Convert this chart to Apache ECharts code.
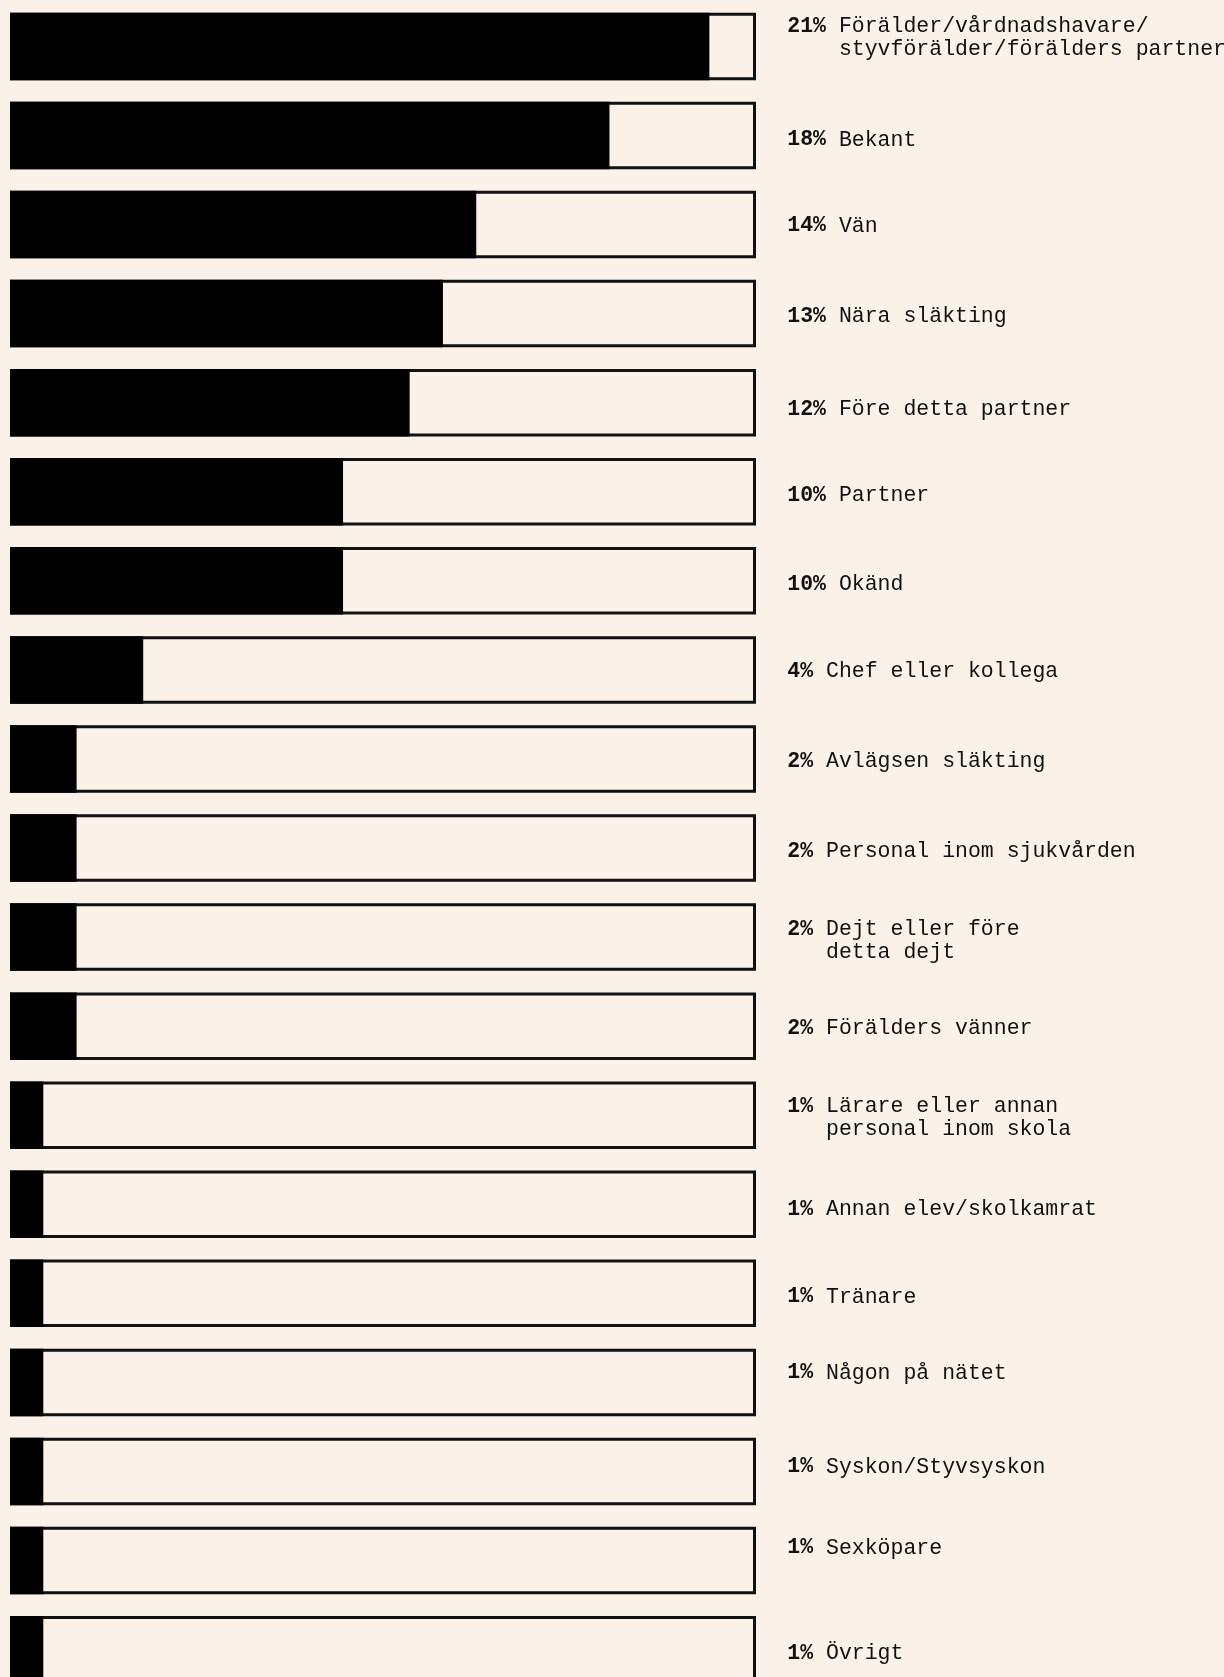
<!DOCTYPE html>
<html>
<head>
<meta charset="utf-8">
<script src="https://cdn.jsdelivr.net/npm/echarts@6/dist/echarts.min.js"></script>
<style>
  html, body { margin: 0; padding: 0; background: #FAF2E8; overflow: hidden; }
  #chart { width: 1224px; height: 1677px; }
</style>
</head>
<body>
<div id="chart"></div>
<script>
// ---- data ----
const categories = [
  'Förälder/vårdnadshavare/\nstyvförälder/förälders partner',
  'Bekant',
  'Vän',
  'Nära släkting',
  'Före detta partner',
  'Partner',
  'Okänd',
  'Chef eller kollega',
  'Avlägsen släkting',
  'Personal inom sjukvården',
  'Dejt eller före\ndetta dejt',
  'Förälders vänner',
  'Lärare eller annan\npersonal inom skola',
  'Annan elev/skolkamrat',
  'Tränare',
  'Någon på nätet',
  'Syskon/Styvsyskon',
  'Sexköpare',
  'Övrigt'
];
const values = [21, 18, 14, 13, 12, 10, 10, 4, 2, 2, 2, 2, 1, 1, 1, 1, 1, 1, 1];
const axisMax = 22.4;

// ---- layout / style (not data) ----
const labelNudge = [-10, 3, 0, 1, 5, 2, 2, 0, 1, 2, 2, 1, 1, 4, 2, -11, -6, -14, 2];
const NUDGE_BASE = 1.5;
const BG = '#FAF2E8';
const INK = '#111111';
const BAR_H = 67.5;
const FONT = '"Liberation Mono", "DejaVu Sans Mono", monospace';
const FS = 21.5;
const LH = 22.5;

function richLabel(i) {
  const pct = values[i] + '%';
  const lines = categories[i].split('\n');
  const pad = ' '.repeat(pct.length + 1);
  return lines.map((ln, k) => k === 0 ? `{p|${pct}}{t| ${ln}}` : `{t|${pad}${ln}}`).join('\n');
}

const chart = echarts.init(document.getElementById('chart'), null, { renderer: 'canvas' });

chart.setOption({
  backgroundColor: BG,
  animation: false,
  grid: { left: 10, width: 746, top: 1.87, height: 1692.3, containLabel: false, outerBoundsMode: 'none' },
  xAxis: { type: 'value', min: 0, max: axisMax, show: false },
  yAxis: { type: 'category', data: categories, inverse: true, show: false },
  series: [
    {
      type: 'custom',
      z: 1,
      silent: true,
      clip: false,
      encode: { x: 0, y: 1 },
      data: categories.map((c, i) => [axisMax, i]),
      renderItem: function (params, api) {
        const i = api.value(1);
        const p0 = api.coord([0, i]);
        const p1 = api.coord([api.value(0), i]);
        const yc = p0[1];
        return {
          type: 'group',
          children: [
            {
              type: 'rect',
              shape: { x: p0[0] + 1.5, y: yc - BAR_H / 2 + 1.5, width: p1[0] - p0[0] - 3, height: BAR_H - 3 },
              style: { fill: BG, stroke: INK, lineWidth: 3 }
            },
            {
              type: 'text',
              x: p1[0] + 31.3,
              y: yc + labelNudge[i] + NUDGE_BASE,
              style: {
                text: richLabel(i),
                align: 'left',
                verticalAlign: 'middle',
                fill: INK,
                fontFamily: FONT,
                fontSize: FS,
                lineHeight: LH,
                rich: {
                  p: { fontFamily: FONT, fontSize: FS, fontWeight: 'bold', fill: INK, lineHeight: LH },
                  t: { fontFamily: FONT, fontSize: FS, fontWeight: 'normal', fill: INK, lineHeight: LH }
                }
              }
            }
          ]
        };
      }
    },
    {
      type: 'bar',
      z: 2,
      silent: true,
      data: values,
      barWidth: BAR_H,
      itemStyle: { color: '#000000' }
    }
  ]
});
</script>
</body>
</html>
